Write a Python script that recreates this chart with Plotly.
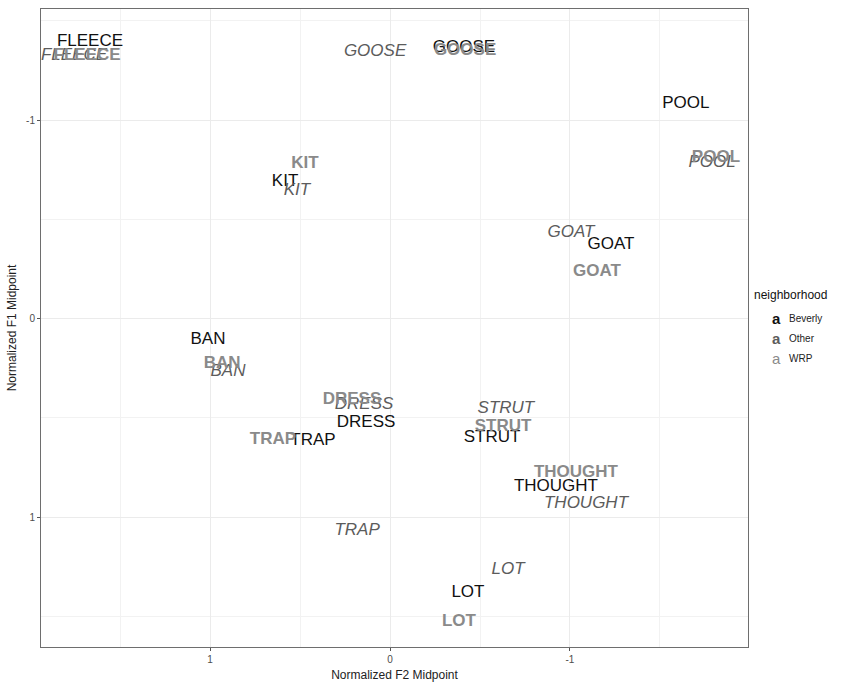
import plotly.graph_objects as go

# Vowel class labels and normalized formant midpoints per neighborhood
beverly_words = ["FLEECE", "GOOSE", "POOL", "KIT", "GOAT", "BAN", "DRESS", "TRAP", "STRUT", "THOUGHT", "LOT"]
beverly_f2 = [1.667, -0.411, -1.644, 0.583, -1.228, 1.011, 0.133, 0.428, -0.567, -0.922, -0.433]
beverly_f1 = [-1.395, -1.365, -1.085, -0.69, -0.37, 0.105, 0.525, 0.615, 0.60, 0.845, 1.38]

other_words = ["FLEECE", "GOOSE", "POOL", "KIT", "GOAT", "BAN", "DRESS", "TRAP", "STRUT", "THOUGHT", "LOT"]
other_f2 = [1.756, 0.083, -1.789, 0.517, -1.006, 0.90, 0.144, 0.183, -0.644, -1.089, -0.656]
other_f1 = [-1.325, -1.345, -0.785, -0.645, -0.43, 0.27, 0.435, 1.07, 0.455, 0.935, 1.265]

wrp_words = ["FLEECE", "GOOSE", "POOL", "KIT", "GOAT", "BAN", "DRESS", "TRAP", "STRUT", "THOUGHT", "LOT"]
wrp_f2 = [1.683, -0.417, -1.811, 0.472, -1.15, 0.933, 0.211, 0.65, -0.628, -1.033, -0.383]
wrp_f1 = [-1.325, -1.35, -0.81, -0.78, -0.235, 0.23, 0.41, 0.61, 0.545, 0.775, 1.53]

neighborhoods = ["Beverly", "Other", "WRP"]
tick_vals = [-1, 0, 1]
tick_text = ["-1", "0", "1"]

FONT = "Liberation Sans, Arial, Helvetica, sans-serif"
styles = {
    "Beverly": dict(color="#111111", weight="normal", style="normal"),
    "Other": dict(color="#5c5c5c", weight="normal", style="italic"),
    "WRP": dict(color="#8a8a8a", weight="bold", style="normal"),
}

fig = go.Figure()
for name, words, f2, f1 in [
    ("Beverly", beverly_words, beverly_f2, beverly_f1),
    ("Other", other_words, other_f2, other_f1),
    ("WRP", wrp_words, wrp_f2, wrp_f1),
]:
    st = styles[name]
    fig.add_trace(go.Scatter(
        x=f2, y=f1, text=words, mode="text", name=name,
        textposition="middle center",
        textfont=dict(family=FONT, size=17, color=st["color"],
                      weight=st["weight"], style=st["style"]),
        showlegend=False, hoverinfo="skip",
    ))

axis_common = dict(
    tickvals=tick_vals, ticktext=tick_text,
    showgrid=True, gridcolor="#ebebeb", gridwidth=1,
    minor=dict(dtick=0.5, tick0=0, showgrid=True, gridcolor="#f2f2f2", gridwidth=0.6),
    zeroline=False, showline=True, linecolor="#6e6e6e", linewidth=1, mirror=True,
    ticks="outside", ticklen=3, tickcolor="#555555",
    tickfont=dict(family=FONT, size=10, color="#4d4d4d"),
)

fig.update_xaxes(range=[1.939, -1.989],
                 title=dict(text="Normalized F2 Midpoint", standoff=6,
                            font=dict(family=FONT, size=12, color="#222222")),
                 **axis_common)
fig.update_yaxes(range=[1.655, -1.56],
                 title=dict(text="Normalized F1 Midpoint", standoff=6,
                            font=dict(family=FONT, size=12, color="#222222")),
                 **axis_common)

# Legend drawn as annotations to show the "a" text keys
legend_x = 752
fig.add_annotation(text="neighborhood", xref="paper", yref="paper",
                   x=(legend_x - 41) / 707, y=(651 - 296) / 643, xanchor="left", yanchor="middle",
                   showarrow=False, font=dict(family=FONT, size=12, color="#111111"))
for i, name in enumerate(neighborhoods):
    st = styles[name]
    ypix = 320 + i * 20
    fig.add_annotation(text="a", xref="paper", yref="paper",
                       x=(776 - 41) / 707, y=(651 - ypix) / 643, xanchor="center", yanchor="middle",
                       showarrow=False,
                       font=dict(family=FONT, size=15, color=st["color"],
                                 weight="bold" if name != "WRP" else "normal"))
    fig.add_annotation(text=name, xref="paper", yref="paper",
                       x=(787 - 41) / 707, y=(651 - ypix) / 643, xanchor="left", yanchor="middle",
                       showarrow=False, font=dict(family=FONT, size=10, color="#222222"))

fig.update_layout(
    width=858, height=687,
    margin=dict(l=41, r=110, t=8, b=36),
    plot_bgcolor="white", paper_bgcolor="white",
    showlegend=False,
)

fig.write_html("out.html")
